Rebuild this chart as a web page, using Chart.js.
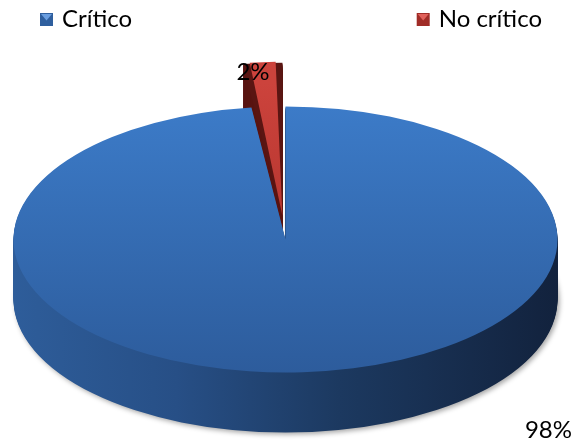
<!DOCTYPE html>
<html>
<head>
<meta charset="utf-8">
<script src="https://cdn.jsdelivr.net/npm/chart.js@4"></script>
<style>
  html, body { margin: 0; padding: 0; background: #fff; }
</style>
</head>
<body>
<canvas id="torta" width="574" height="446"></canvas>
<script>
// Datos del gráfico
const categorias = ['Crítico', 'No crítico'];
const valores = [98, 2];

// Estilo
const coloresCara = [['#3c7bc8', '#2d5c9c'], ['#cc433c', '#a52b25']];
const coloresMarca = [['#2f5f9e', '#6a9ee0'], ['#a02c27', '#e0605a']];
const colorLadoRojo = '#5a1512';
const SEPARACION = 80;     // desplazamiento de la porción "No crítico"
const RX = 272, RY = 133;  // semiejes de la cara superior
const PROF = 60;           // grosor del pastel
const FUENTE = '24px Lato, "Open Sans", sans-serif';

function caraSuperior(c) {
  const area = c.chart.chartArea;
  const col = coloresCara[c.dataIndex];
  if (!area) return col[0];
  const cy = (area.top + area.bottom) / 2;
  const r = (Math.min(area.width, area.height) - SEPARACION) / 2;
  const g = c.chart.ctx.createLinearGradient(0, cy - r, 0, cy + r);
  g.addColorStop(0, col[0]);
  g.addColorStop(1, col[1]);
  return g;
}

function escala(arc) {
  return { sx: RX / arc.outerRadius, sy: RY / arc.outerRadius };
}

function aplicarElipse(ctx, arc) {
  const { sx, sy } = escala(arc);
  ctx.translate(arc.x, arc.y);
  ctx.scale(sx, sy);
  ctx.translate(-arc.x, -arc.y);
}

// mismo trazo que usa ArcElement (incluido el desplazamiento)
function geometria(arc) {
  const medio = (arc.startAngle + arc.endAngle) / 2;
  const off = (arc.options.offset || 0) / 4;
  const circ = arc.endAngle - arc.startAngle;
  const fix = 1 - Math.sin(Math.min(Math.PI, circ));
  return {
    ox: arc.x + Math.cos(medio) * off,
    oy: arc.y + Math.sin(medio) * off,
    R: arc.outerRadius + off * fix
  };
}

function trazoPorcion(ctx, arc) {
  const { ox, oy, R } = geometria(arc);
  ctx.beginPath();
  ctx.moveTo(ox, oy);
  ctx.arc(ox, oy, R, arc.startAngle, arc.endAngle);
  ctx.closePath();
}

function aPantalla(arc, px, py) {
  const { sx, sy } = escala(arc);
  return { x: arc.x + (px - arc.x) * sx, y: arc.y + (py - arc.y) * sy };
}

function dibujarMarca(ctx, x, y, t, col) {
  ctx.save();
  ctx.fillStyle = col[0];
  ctx.fillRect(x, y, t, t);
  ctx.fillStyle = col[1];
  ctx.beginPath();
  ctx.moveTo(x + 1, y + 1);
  ctx.lineTo(x + t - 1, y + 1);
  ctx.lineTo(x + t / 2, y + t / 2 + 1);
  ctx.closePath();
  ctx.fill();
  ctx.restore();
}

const pastel3d = {
  id: 'pastel3d',
  beforeDatasetDraw(chart, args) {
    const ctx = chart.ctx;
    const arcs = args.meta.data;
    const ref = arcs[0];
    const { sy } = escala(ref);
    const r = ref.outerRadius;
    ctx.save();
    aplicarElipse(ctx, ref);

    const ladoAzul = ctx.createLinearGradient(ref.x - r, 0, ref.x + r, 0);
    ladoAzul.addColorStop(0, '#2e5d9a');
    ladoAzul.addColorStop(0.3, '#274f86');
    ladoAzul.addColorStop(0.6, '#1c3960');
    ladoAzul.addColorStop(1, '#12223d');

    // paredes laterales, de atrás hacia delante
    for (let i = arcs.length - 1; i >= 0; i--) {
      const arc = arcs[i];
      for (let d = PROF; d >= 1; d--) {
        ctx.save();
        ctx.translate(0, d / sy);
        if (i === 0 && d === PROF) {
          ctx.shadowColor = 'rgba(0,0,0,0.35)';
          ctx.shadowBlur = 5;
          ctx.shadowOffsetX = 2;
          ctx.shadowOffsetY = 2;
        }
        trazoPorcion(ctx, arc);
        ctx.fillStyle = i === 0 ? ladoAzul : colorLadoRojo;
        ctx.fill();
        ctx.restore();
      }
    }
  },
  afterDatasetDraw(chart) {
    chart.ctx.restore();
  },
  afterDraw(chart) {
    const ctx = chart.ctx;
    const arcs = chart.getDatasetMeta(0).data;
    const total = valores.reduce((a, b) => a + b, 0);
    const pct = valores.map(v => Math.round(v / total * 100) + '%');

    ctx.save();
    ctx.font = FUENTE;
    ctx.textBaseline = 'alphabetic';

    // leyenda
    dibujarMarca(ctx, 40, 13, 13, coloresMarca[0]);
    ctx.fillStyle = '#000';
    ctx.fillText(categorias[0], 62, 27);
    const w1 = ctx.measureText(categorias[1]).width;
    const x1 = 542 - w1;
    dibujarMarca(ctx, x1 - 22, 13, 13, coloresMarca[1]);
    ctx.fillStyle = '#000';
    ctx.fillText(categorias[1], x1, 27);

    // etiqueta de la porción pequeña, sobre su borde exterior
    const rojo = arcs[1];
    const g = geometria(rojo);
    const p = aPantalla(rojo, g.ox + g.R * Math.cos(rojo.startAngle), g.oy + g.R * Math.sin(rojo.startAngle));
    ctx.textAlign = 'center';
    ctx.fillText(pct[1], p.x + 10, p.y + 17);

    // etiqueta de la porción grande, esquina inferior derecha
    ctx.textAlign = 'right';
    ctx.fillText(pct[0], chart.width - 2, chart.height - 8);
    ctx.restore();
  }
};

new Chart(document.getElementById('torta'), {
  type: 'pie',
  data: {
    labels: categorias,
    datasets: [{
      data: valores,
      backgroundColor: caraSuperior,
      borderWidth: 0,
      offset: [0, SEPARACION],
      hoverOffset: 0
    }]
  },
  options: {
    responsive: false,
    animation: false,
    devicePixelRatio: 1,
    events: [],
    layout: { padding: { left: 0, right: 3, top: 88, bottom: 55 } },
    plugins: {
      legend: { display: false },
      tooltip: { enabled: false }
    }
  },
  plugins: [pastel3d]
});
</script>
</body>
</html>
